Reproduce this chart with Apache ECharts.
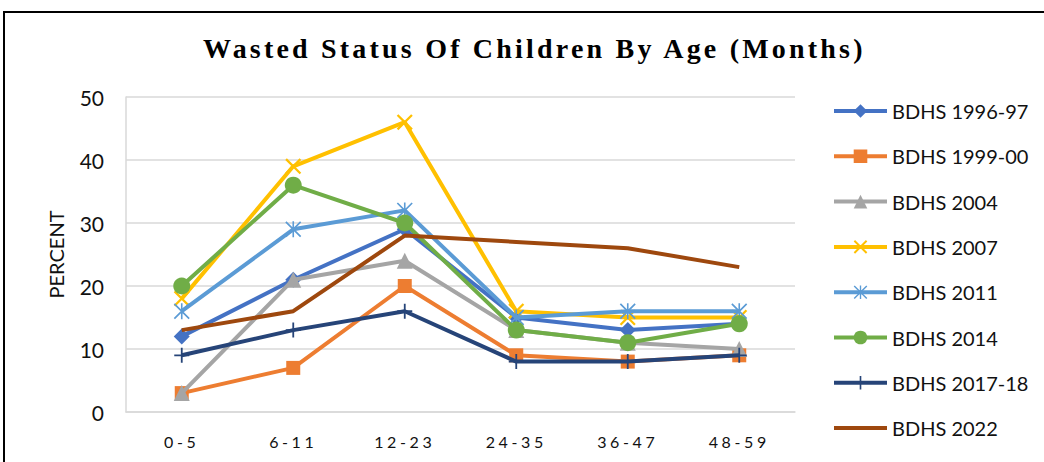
<!DOCTYPE html>
<html>
<head>
<meta charset="utf-8">
<script src="https://cdn.jsdelivr.net/npm/echarts@6/dist/echarts.min.js"></script>
<style>
  html, body { margin: 0; padding: 0; background: #fff; }
  #chart { width: 1044px; height: 462px; }
  /* excel-like spaced lettering for title and category labels */
  #chart text[style*="ttlfont"] { letter-spacing: 3.2px; }
  #chart text[style*="xlabfont"] { letter-spacing: 3.6px; }
</style>
</head>
<body>
<div id="chart"></div>
<script>
const ageGroups = ['0-5', '6-11', '12-23', '24-35', '36-47', '48-59'];
const seriesNames = ['BDHS 1996-97', 'BDHS 1999-00', 'BDHS 2004', 'BDHS 2007', 'BDHS 2011', 'BDHS 2014', 'BDHS 2017-18', 'BDHS 2022'];
const bdhs1996 = [12, 21, 29, 15, 13, 14];
const bdhs1999 = [3, 7, 20, 9, 8, 9];
const bdhs2004 = [3, 21, 24, 13, 11, 10];
const bdhs2007 = [18, 39, 46, 16, 15, 15];
const bdhs2011 = [16, 29, 32, 15, 16, 16];
const bdhs2014 = [20, 36, 30, 13, 11, 14];
const bdhs2017 = [9, 13, 16, 8, 8, 9];
const bdhs2022 = [13, 16, 28, 27, 26, 23];

const colors = ['#4472C4', '#ED7D31', '#A5A5A5', '#FFC000', '#5B9BD5', '#70AD47', '#264478', '#9E480E'];

// stroked excel-like markers drawn as thin filled shapes
const xPath = 'path://M0,2 L2,0 L20,18 L18,20 Z M18,0 L20,2 L2,20 L0,18 Z';
const plusPath = 'path://M8.8,0 L11.2,0 L11.2,8.8 L20,8.8 L20,11.2 L11.2,11.2 L11.2,20 L8.8,20 L8.8,11.2 L0,11.2 L0,8.8 L8.8,8.8 Z';
const starPath = 'path://M9,0 L11,0 L11,20 L9,20 Z M0,1.5 L1.5,0 L20,18.5 L18.5,20 Z M18.5,0 L20,1.5 L1.5,20 L0,18.5 Z';

const symbols = ['diamond', 'rect', 'triangle', xPath, starPath, 'circle', plusPath, 'none'];
const sizes = [16, 14, 16, 16, 16, 17, 15, 0];
const allData = [bdhs1996, bdhs1999, bdhs2004, bdhs2007, bdhs2011, bdhs2014, bdhs2017, bdhs2022];

const chart = echarts.init(document.getElementById('chart'), null, { renderer: 'svg' });

const series = seriesNames.map((name, i) => ({
  name: name,
  type: 'line',
  data: allData[i],
  symbol: symbols[i],
  symbolSize: sizes[i],
  showSymbol: symbols[i] !== 'none',
  lineStyle: { color: colors[i], width: 4 },
  itemStyle: { color: colors[i], borderWidth: 0 },
  z: 2 + i
}));

const legendData = seriesNames.map(n => n === 'BDHS 2022' ? { name: n, itemStyle: { opacity: 0 } } : n);

const option = {
  animation: false,
  title: {
    text: 'Wasted Status Of Children By Age (Months)',
    left: 198,
    top: 29,
    textStyle: { fontFamily: '"Liberation Serif", ttlfont, serif', fontWeight: 'bold', fontSize: 28, color: '#000' }
  },
  graphic: [{
    type: 'rect',
    shape: { x: 4, y: 12, width: 1100, height: 520 },
    style: { fill: 'none', stroke: '#000', lineWidth: 2 }
  }],
  grid: { left: 126, right: 249, top: 97, bottom: 50 },
  legend: {
    orient: 'vertical',
    left: 827,
    top: 96,
    itemWidth: 53,
    itemHeight: 17,
    itemGap: 25.3,
    lineStyle: { width: 4 },
    textStyle: { fontFamily: 'Lato, sans-serif', fontSize: 20, color: '#111' },
    data: legendData
  },
  xAxis: {
    type: 'category',
    data: ageGroups,
    boundaryGap: true,
    axisLine: { lineStyle: { color: '#d9d9d9', width: 1.5 } },
    axisTick: { show: false },
    axisLabel: { fontFamily: 'Lato, xlabfont, sans-serif', fontSize: 16, color: '#111', margin: 21 }
  },
  yAxis: {
    type: 'value',
    min: 0,
    max: 50,
    interval: 10,
    name: 'PERCENT',
    nameLocation: 'middle',
    nameRotate: 90,
    nameGap: 60,
    nameTextStyle: { fontFamily: 'Lato, sans-serif', fontSize: 20, color: '#111' },
    axisLine: { show: true, lineStyle: { color: '#d9d9d9', width: 1.5 } },
    axisTick: { show: false },
    axisLabel: { fontFamily: 'Lato, sans-serif', fontSize: 21, color: '#111', margin: 22 },
    splitLine: { lineStyle: { color: '#d9d9d9', width: 1.5 } }
  },
  series: series
};

chart.setOption(option);
</script>
</body>
</html>
